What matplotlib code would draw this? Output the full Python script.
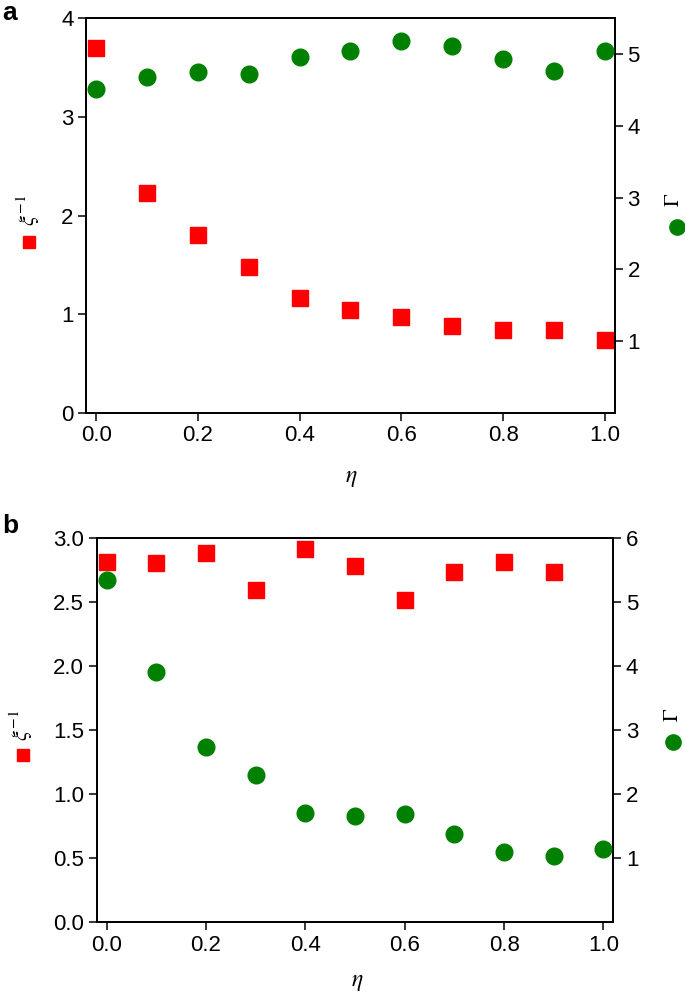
import numpy as np
import matplotlib
matplotlib.use("Agg")
import matplotlib.pyplot as plt

plt.rcParams['font.family'] = ['Liberation Sans', 'DejaVu Sans']
plt.rcParams['mathtext.fontset'] = 'stix'

# datos
eta = [0.0, 0.1, 0.2, 0.3, 0.4, 0.5, 0.6, 0.7, 0.8, 0.9, 1.0]

# panel a
xi_a = [3.70, 2.23, 1.80, 1.48, 1.17, 1.04, 0.97, 0.88, 0.84, 0.84, 0.74]
gamma_a = [4.52, 4.68, 4.75, 4.72, 4.96, 5.05, 5.18, 5.12, 4.93, 4.77, 5.05]

# panel b (sin cuadrado en eta = 1.0)
eta_b_xi = [0.0, 0.1, 0.2, 0.3, 0.4, 0.5, 0.6, 0.7, 0.8, 0.9]
xi_b = [2.81, 2.80, 2.88, 2.59, 2.91, 2.78, 2.51, 2.73, 2.81, 2.73]
gamma_b = [5.34, 3.91, 2.73, 2.30, 1.71, 1.66, 1.69, 1.375, 1.09, 1.04, 1.14]

red = '#ff0000'
green = '#008000'

fig = plt.figure(figsize=(6.85, 9.92), dpi=100)


def panel(rect, x_sq, y_sq, x_ci, y_ci, ylim_l, ylim_r, lticks, rticks,
          lfmt, letter, letter_y, lab_x, lab_l, mk_l, lab_r, mk_r):
    ax = fig.add_axes(rect)
    ax2 = ax.twinx()
    ax.plot(x_sq, y_sq, 's', color=red, markersize=12, zorder=3)
    ax2.plot(x_ci, y_ci, 'o', color=green, markersize=12, zorder=3)
    ax.set_xlim(-0.02, 1.02)
    ax.set_ylim(*ylim_l)
    ax2.set_ylim(*ylim_r)
    ax.set_xticks([0.0, 0.2, 0.4, 0.6, 0.8, 1.0])
    ax.set_xticklabels(['0.0', '0.2', '0.4', '0.6', '0.8', '1.0'])
    ax.set_yticks(lticks)
    ax.set_yticklabels([lfmt.format(t) for t in lticks])
    ax2.set_yticks(rticks)
    for a in (ax, ax2):
        for s in a.spines.values():
            s.set_linewidth(1.3)
        a.tick_params(direction='out', length=6, width=1.1, labelsize=16, pad=3)
    ax.set_xlabel(r'$\eta$', fontsize=17)
    ax.xaxis.set_label_coords(*lab_x)
    ax.set_ylabel(r'$\xi^{-1}$', fontsize=16)
    ax.yaxis.set_label_coords(*lab_l)
    ax2.set_ylabel(r'$\Gamma$', fontsize=15)
    ax2.yaxis.set_label_coords(*lab_r)
    ax.plot([mk_l[0]], [mk_l[1]], 's', color=red, markersize=9,
            transform=ax.transAxes, clip_on=False)
    ax2.plot([mk_r[0]], [mk_r[1]], 'o', color=green, markersize=11,
             transform=ax2.transAxes, clip_on=False)
    fig.text(0.003, letter_y, letter, fontsize=19,
             fontweight='bold', va='top', ha='left')
    return ax, ax2


panel([0.1255, 0.5837, 0.7723, 0.3979], eta, xi_a, eta, gamma_a,
      (0, 4), (0, 5.5), [0, 1, 2, 3, 4], [1, 2, 3, 4, 5], '{:g}', 'a', 0.999,
      (0.501, -0.137), (-0.083, 0.514), (-0.108, 0.433),
      (1.093, 0.540), (1.117, 0.471))

panel([0.1412, 0.0703, 0.7542, 0.3877], eta_b_xi, xi_b, eta, gamma_b,
      (0, 3), (0, 6), [0.0, 0.5, 1.0, 1.5, 2.0, 2.5, 3.0], [1, 2, 3, 4, 5, 6],
      '{:.1f}', 'b', 0.482,
      (0.505, -0.126), (-0.119, 0.513), (-0.143, 0.435),
      (1.097, 0.538), (1.115, 0.469))

fig.savefig('out.png', dpi=100)
